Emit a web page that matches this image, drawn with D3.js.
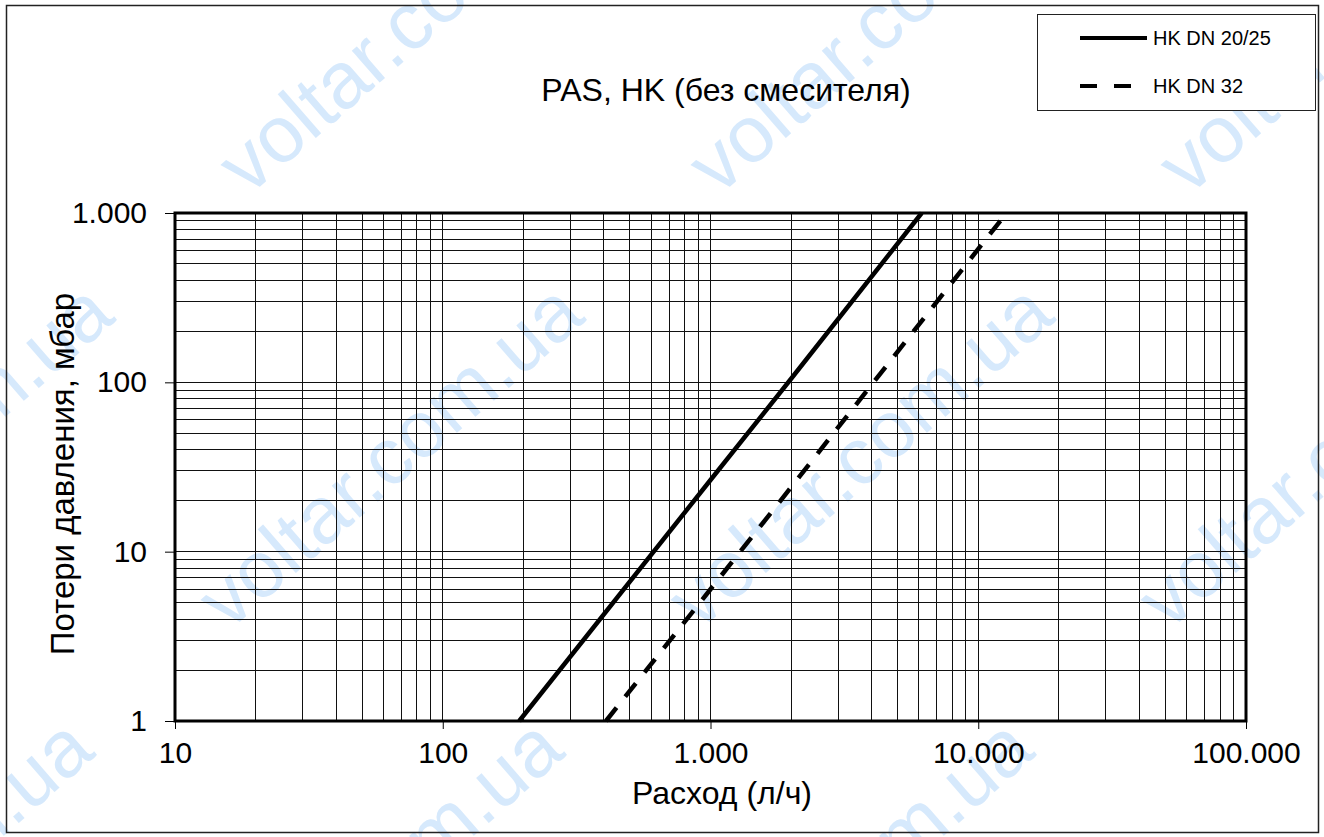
<!DOCTYPE html>
<html>
<head>
<meta charset="utf-8">
<script src="https://cdn.jsdelivr.net/npm/d3@7"></script>
<style>
  body { margin: 0; background: #fff; }
  svg { display: block; font-family: "Liberation Sans", Arial, sans-serif; }
</style>
</head>
<body>
<svg id="chart"></svg>
<script>
// data (flow l/h, loss mbar)
const seriesNames = ['HK DN 20/25', 'HK DN 32']
const flowDN25 = [193, 1000, 2000, 6150]
const lossDN25 = [1, 26.5, 105, 1000]
const flowDN32 = [407, 1000, 2000, 12300]
const lossDN32 = [1, 6, 24, 930]
const xTickValues = [10, 100, 1000, 10000, 100000]
const xTickLabels = ['10', '100', '1.000', '10.000', '100.000']
const yTickValues = [1, 10, 100, 1000]
const yTickLabels = ['1', '10', '100', '1.000']

const w = 1324, h = 837
const m = { left: 175, right: 1246, top: 213, bottom: 721 }

const svg = d3.select('#chart')
  .attr('width', w)
  .attr('height', h)

// watermark
const wm = svg.append('g').attr('fill', '#d6e9fc')
for (let i = -2; i <= 3; i++) {
  for (let j = -1; j <= 1; j++) {
    const x0 = 228 + i * 470 - j * 20
    const y0 = 632 + j * 435
    wm.append('text')
      .attr('transform', `translate(${x0},${y0}) rotate(-41)`)
      .attr('font-size', 80)
      .text('voltar.com.ua')
  }
}

// outer frame
svg.append('rect')
  .attr('x', 6.5).attr('y', 5.5)
  .attr('width', 1312).attr('height', 827)
  .attr('fill', 'none')
  .attr('stroke', '#222')
  .attr('stroke-width', 1.5)

// scales
const xScale = d3.scaleLog().domain([10, 100000]).range([m.left, m.right])
const yScale = d3.scaleLog().domain([1, 1000]).range([m.bottom, m.top])

// grid
const xGrid = []
for (let d = 10; d < 100000; d *= 10) for (let k = 1; k < 10; k++) xGrid.push(d * k)
const yGrid = []
for (let d = 1; d < 1000; d *= 10) for (let k = 1; k < 10; k++) yGrid.push(d * k)

const grid = svg.append('g')
  .attr('stroke', '#111')
  .attr('stroke-width', 1)
  .attr('shape-rendering', 'crispEdges')
grid.selectAll('.vg').data(xGrid).enter().append('line')
  .attr('x1', d => xScale(d)).attr('x2', d => xScale(d))
  .attr('y1', m.top).attr('y2', m.bottom)
grid.selectAll('.hg').data(yGrid).enter().append('line')
  .attr('y1', d => yScale(d)).attr('y2', d => yScale(d))
  .attr('x1', m.left).attr('x2', m.right)

// axes
const xAxis = d3.axisBottom(xScale)
  .tickValues(xTickValues)
  .tickFormat((d, i) => xTickLabels[i])
  .tickSize(8)
  .tickPadding(13)
const yAxis = d3.axisLeft(yScale)
  .tickValues(yTickValues)
  .tickFormat((d, i) => yTickLabels[i])
  .tickSize(10)
  .tickPadding(18)

const gx = svg.append('g')
  .attr('transform', `translate(0, ${m.bottom})`)
  .call(xAxis)
gx.select('.domain').remove()
gx.selectAll('text').attr('font-size', 30).attr('fill', '#000').attr('font-family', '"Liberation Sans", Arial')
gx.selectAll('line').attr('stroke', '#000')

const gy = svg.append('g')
  .attr('transform', `translate(${m.left}, 0)`)
  .call(yAxis)
gy.select('.domain').remove()
gy.selectAll('text').attr('font-size', 30).attr('fill', '#000').attr('font-family', '"Liberation Sans", Arial')
gy.selectAll('line').attr('stroke', '#000')

// plot border
svg.append('rect')
  .attr('x', m.left).attr('y', m.top)
  .attr('width', m.right - m.left).attr('height', m.bottom - m.top)
  .attr('fill', 'none')
  .attr('stroke', '#000')
  .attr('stroke-width', 3)

// curves
const line = d3.line()
  .x(d => xScale(d[0]))
  .y(d => yScale(d[1]))

svg.append('path')
  .datum(d3.zip(flowDN25, lossDN25))
  .attr('d', line)
  .attr('fill', 'none')
  .attr('stroke', '#000')
  .attr('stroke-width', 4.5)

svg.append('path')
  .datum(d3.zip(flowDN32, lossDN32))
  .attr('d', line)
  .attr('fill', 'none')
  .attr('stroke', '#000')
  .attr('stroke-width', 4.5)
  .attr('stroke-dasharray', '17,14')

// titles
svg.append('text')
  .attr('x', 726).attr('y', 101)
  .attr('text-anchor', 'middle')
  .attr('font-size', 32)
  .text('PAS, HK (без смесителя)')

svg.append('text')
  .attr('x', 722).attr('y', 804)
  .attr('text-anchor', 'middle')
  .attr('font-size', 32)
  .text('Расход (л/ч)')

svg.append('text')
  .attr('transform', 'translate(74, 474) rotate(-90)')
  .attr('text-anchor', 'middle')
  .attr('font-size', 33)
  .text('Потери давления, мбар')

// legend
const lg = svg.append('g')
lg.append('rect')
  .attr('x', 1037.5).attr('y', 14.5)
  .attr('width', 278).attr('height', 96)
  .attr('fill', '#fff')
  .attr('stroke', '#222')
  .attr('stroke-width', 1)
seriesNames.forEach((name, i) => {
  const y = 38 + i * 48
  lg.append('line')
    .attr('x1', 1080).attr('x2', i === 1 ? 1131 : 1147)
    .attr('y1', y).attr('y2', y)
    .attr('stroke', '#000')
    .attr('stroke-width', 4)
    .attr('stroke-dasharray', i === 1 ? '17,17' : null)
  lg.append('text')
    .attr('x', 1153).attr('y', y + 7)
    .attr('font-size', 20)
    .text(name)
})
</script>
</body>
</html>
